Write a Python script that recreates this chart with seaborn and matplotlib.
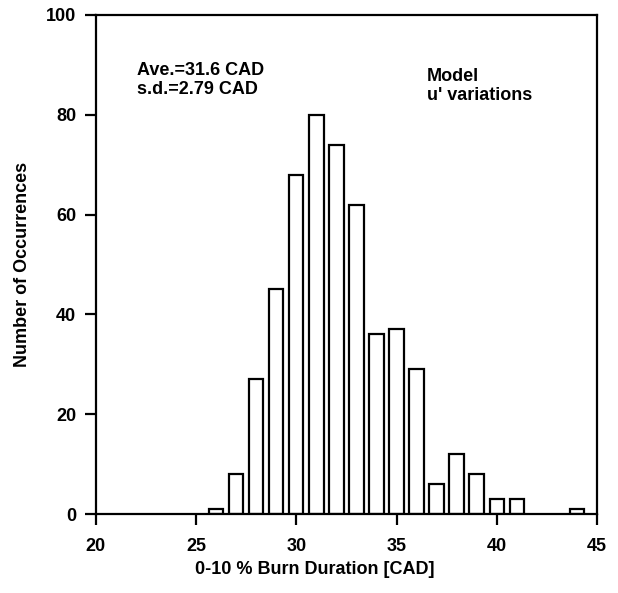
import matplotlib
matplotlib.use("Agg")
import matplotlib.pyplot as plt
import seaborn as sns
import pandas as pd

durations = [26, 27, 28, 29, 30, 31, 32, 33, 34, 35, 36, 37, 38, 39, 40, 41, 42, 43, 44]
counts = [1, 8, 27, 45, 68, 80, 74, 62, 36, 37, 29, 6, 12, 8, 3, 3, 0, 0, 1]
x_ticks = [20, 25, 30, 35, 40, 45]
y_ticks = [0, 20, 40, 60, 80, 100]

sns.set_theme(style="ticks")
plt.rcParams['font.family'] = ['Liberation Sans', 'DejaVu Sans']
plt.rcParams['text.color'] = 'black'

df = pd.DataFrame({"dur": durations, "n": counts})
df = df[df["n"] > 0]

fig = plt.figure(figsize=(6.18, 5.93), dpi=100)
ax = fig.add_axes([0.155, 0.133, 0.811, 0.842])
sns.barplot(data=df, x="dur", y="n", native_scale=True, width=0.72,
            color="white", edgecolor="black", linewidth=1.6, ax=ax)

FS = 13
ax.set_xlim(20, 45)
ax.set_ylim(0, 100)
ax.set_xticks(x_ticks)
ax.set_yticks(y_ticks)
ax.set_xticklabels([str(v) for v in x_ticks], fontsize=FS, fontweight="bold", color="black")
ax.set_yticklabels([str(v) for v in y_ticks], fontsize=FS, fontweight="bold", color="black")
for s in ax.spines.values():
    s.set_visible(True)
    s.set_linewidth(1.6)
    s.set_color("black")
ax.tick_params(axis="both", direction="out", length=8, width=1.6, colors="black")
ax.tick_params(axis="x", pad=9)
ax.tick_params(axis="y", pad=6)
ax.tick_params(top=False, right=False)
ax.set_xlabel("0-10 % Burn Duration [CAD]", fontsize=FS, fontweight="bold", color="black")
ax.set_ylabel("Number of Occurrences", fontsize=FS, fontweight="bold", color="black")
ax.xaxis.set_label_coords(0.437, -0.093)
ax.yaxis.set_label_coords(-0.129, 0.5)

ax.text(22.05, 90.6, "Ave.=31.6 CAD\ns.d.=2.79 CAD", fontsize=FS, fontweight="bold",
        va="top", ha="left", linespacing=1.2, color="black")
ax.text(36.5, 89.4, "Model\nu' variations", fontsize=FS, fontweight="bold",
        va="top", ha="left", linespacing=1.2, color="black")

fig.savefig("out.png", dpi=100, facecolor="white")
